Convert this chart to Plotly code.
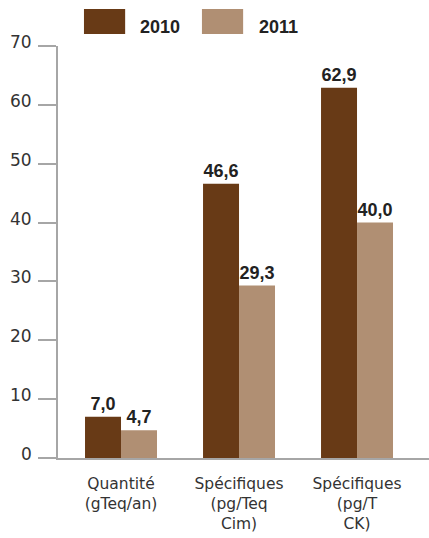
import plotly.graph_objects as go

# Data
categories = ["Quantité<br>(gTeq/an)", "Spécifiques<br>(pg/Teq<br>Cim)", "Spécifiques<br>(pg/T<br>CK)"]
values_2010 = [7.0, 46.6, 62.9]
values_2011 = [4.7, 29.3, 40.0]
series_names = ["2010", "2011"]
y_ticks = [0, 10, 20, 30, 40, 50, 60, 70]

color_2010 = "#683A16"
color_2011 = "#B08F73"
axis_grey = "#A6A6A6"
font_family = "Liberation Sans, Arial, sans-serif"
label_family = "DejaVu Sans, sans-serif"


def fr(v):
    return f"{v:.1f}".replace(".", ",")


fig = go.Figure()
for name, vals, col in [(series_names[0], values_2010, color_2010),
                        (series_names[1], values_2011, color_2011)]:
    fig.add_trace(go.Bar(
        name=name, x=list(range(len(categories))), y=vals,
        marker=dict(color=col, line=dict(width=0)),
        text=[fr(v) for v in vals], textposition="outside",
        textfont=dict(family=font_family, size=18, color="#222222", weight="bold"),
        cliponaxis=False, showlegend=False,
    ))

fig.update_layout(
    width=429, height=538,
    margin=dict(l=58, r=0, t=46, b=80, autoexpand=False),
    paper_bgcolor="white", plot_bgcolor="white",
    barmode="group", bargap=0.39, bargroupgap=0,
    font=dict(family=font_family, size=18, color="#333333"),
    showlegend=False,
)

fig.update_xaxes(
    tickmode="array", tickvals=list(range(len(categories))), ticktext=categories,
    range=[-0.534, 2.61],
    showline=True, linecolor=axis_grey, linewidth=2,
    ticks="", showgrid=False, zeroline=False, automargin=False,
    tickfont=dict(family=label_family, size=15.5, color="#333333"),
    ticklabelstandoff=10,
)
fig.update_yaxes(
    range=[0, 70], tickvals=y_ticks,
    showline=True, linecolor=axis_grey, linewidth=2,
    ticks="outside", ticklen=18, tickwidth=2, tickcolor=axis_grey,
    showgrid=False, zeroline=False, automargin=False,
    showticklabels=False,
)

# Y tick labels, set slightly above each tick
for t in y_ticks:
    fig.add_annotation(text=str(t), xref="paper", yref="y", x=0, y=t,
                       xanchor="right", yanchor="middle", xshift=-24, yshift=4,
                       showarrow=False,
                       font=dict(family=label_family, size=17, color="#333333"))

# Legend swatches and labels
legend_items = [(series_names[0], color_2010, 0.070, 0.181, 0.2156),
                (series_names[1], color_2011, 0.388, 0.499, 0.536)]
for name, col, x0, x1, tx in legend_items:
    fig.add_shape(type="rect", xref="paper", yref="paper",
                  x0=x0, x1=x1, y0=1.029, y1=1.0898,
                  fillcolor=col, line=dict(width=0))
    fig.add_annotation(text=f"<b>{name}</b>", xref="paper", yref="paper",
                       x=tx, y=1.046, xanchor="left", yanchor="middle",
                       showarrow=False,
                       font=dict(family=font_family, size=18, color="#222222"))

fig.write_html("out.html")
